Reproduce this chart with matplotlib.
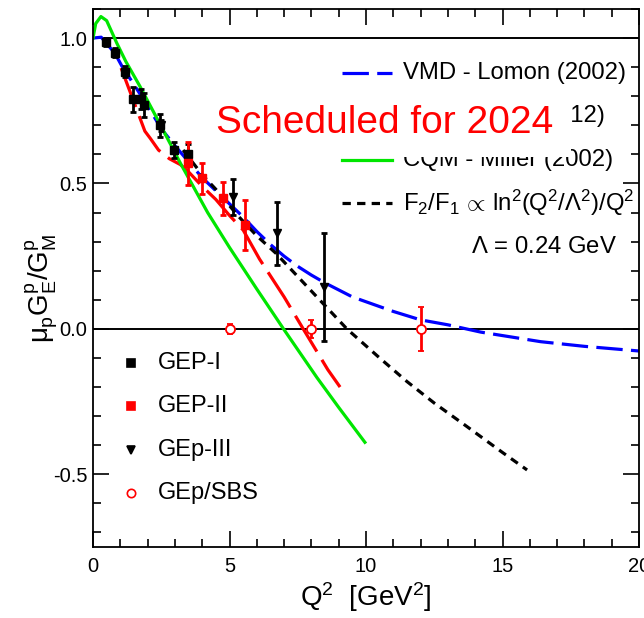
import matplotlib
matplotlib.use("Agg")
import matplotlib.pyplot as plt
from matplotlib import font_manager
from matplotlib.lines import Line2D
from matplotlib.patches import Rectangle
from matplotlib.ticker import MultipleLocator, FormatStrFormatter

# --- fuentes (ROOT usa Helvetica estrecha) ---
nombres = {f.name for f in font_manager.fontManager.ttflist}
narrow = "Liberation Sans Narrow" if "Liberation Sans Narrow" in nombres else "Liberation Sans"
plt.rcParams["font.family"] = [narrow, "DejaVu Sans"]
plt.rcParams["mathtext.fontset"] = "custom"
plt.rcParams["mathtext.rm"] = narrow
plt.rcParams["mathtext.it"] = narrow
plt.rcParams["mathtext.bf"] = narrow
plt.rcParams["axes.unicode_minus"] = False
plt.rcParams["lines.scale_dashes"] = False

# --- datos ---
gep1_q2 = [0.49, 0.79, 1.18, 1.48, 1.77, 1.88, 2.47, 2.97, 3.47]
gep1_r = [0.985, 0.95, 0.885, 0.79, 0.79, 0.77, 0.70, 0.615, 0.60]
gep1_err = [0.012, 0.015, 0.02, 0.043, 0.034, 0.04, 0.04, 0.026, 0.037]

gep2_q2 = [3.49, 3.98, 4.77, 5.57]
gep2_r = [0.569, 0.518, 0.449, 0.357]
gep2_err = [0.075, 0.054, 0.057, 0.085]

gep3_q2 = [2.49, 5.14, 6.73, 8.46]
gep3_r = [0.70, 0.455, 0.329, 0.145]
gep3_err = [0.02, 0.062, 0.109, 0.186]

sbs_q2 = [5.0, 8.0, 12.0]
sbs_r = [0.0, 0.0, 0.0]
sbs_err = [0.016, 0.03, 0.075]

# curvas teóricas
vmd_q2 = [0, 0.3, 0.8, 1.05, 1.5, 1.96, 2.51, 3.0, 3.5, 4.0, 5.0, 5.5, 6.0, 6.5, 7.0,
          7.5, 8.0, 8.5, 9.5, 11.0, 12.0, 13.0, 14.2, 16.4, 18.0, 20.0]
vmd_r = [1.0, 1.003, 0.948, 0.905, 0.84, 0.773, 0.687, 0.63, 0.575, 0.52, 0.43, 0.385,
         0.335, 0.29, 0.25, 0.215, 0.185, 0.158, 0.11, 0.06, 0.031, 0.014, -0.011,
         -0.044, -0.06, -0.076]

dse_q2 = [1.03, 1.5, 1.9, 2.1, 2.4, 2.8, 3.2, 3.5, 4.0, 4.5, 5.0, 5.5, 6.1, 7.0, 7.7, 8.6, 9.05]
dse_r = [0.897, 0.78, 0.68, 0.655, 0.615, 0.585, 0.565, 0.54, 0.49, 0.445, 0.39, 0.34,
         0.24, 0.11, 0.0, -0.14, -0.2]

cqm_q2 = [0, 0.1, 0.29, 0.5, 0.87, 1.2, 1.72, 2.45, 3.2, 4.2, 5.0, 6.0, 7.0, 8.2, 9.0, 9.96]
cqm_r = [1.0, 1.05, 1.074, 1.06, 0.983, 0.92, 0.834, 0.705, 0.57, 0.40, 0.28, 0.137,
         -0.003, -0.167, -0.27, -0.39]

pqcd_q2 = [3.3, 4.0, 4.5, 5.3, 6.0, 6.7, 7.5, 8.3, 9.3, 10.5, 11.5, 12.5, 13.7, 15.0, 15.9]
pqcd_r = [0.615, 0.53, 0.48, 0.39, 0.32, 0.26, 0.18, 0.10, 0.0, -0.10, -0.181, -0.255,
          -0.336, -0.425, -0.485]

W, H = 644, 618
fig = plt.figure(figsize=(W / 100, H / 100), dpi=100)
x0, x1, ytop, ybot = 93, 639, 9, 547
ax = fig.add_axes([x0 / W, 1 - ybot / H, (x1 - x0) / W, (ybot - ytop) / H])
ax.set_xlim(0, 20)
ax.set_ylim(-0.75, 1.1)

ax.axhline(1.0, color="black", lw=1.4, zorder=1)
ax.axhline(0.0, color="black", lw=1.4, zorder=1)

azul = (0, 0, 1)
rojo = (1, 0, 0)
verde = (0, 0.9, 0)
guion_azul = (0, (19, 6))
guion_rojo = (0, (30, 7))
guion_negro = (0, (6, 4.5))

ax.plot(vmd_q2, vmd_r, color=azul, lw=2.3, ls=guion_azul, zorder=2)
ax.plot(dse_q2, dse_r, color=rojo, lw=2.3, ls=guion_rojo, zorder=2)
ax.plot(cqm_q2, cqm_r, color=verde, lw=2.3, zorder=2)
ax.plot(pqcd_q2, pqcd_r, color="black", lw=2.3, ls=guion_negro, zorder=2)

kw = dict(ls="none", elinewidth=2, capsize=2.5, capthick=2, zorder=3)
ax.errorbar(gep1_q2, gep1_r, yerr=gep1_err, marker="s", ms=6, color="black", **kw)
ax.errorbar(gep2_q2, gep2_r, yerr=gep2_err, marker="s", ms=6, color=rojo, **kw)
ax.errorbar(gep3_q2, gep3_r, yerr=gep3_err, marker="v", ms=6, color="black", **kw)
ax.errorbar(sbs_q2, sbs_r, yerr=sbs_err, marker="o", ms=6.5, mfc="white", mec=rojo,
            mew=1.3, color=rojo, **kw)

# ejes estilo ROOT
ax.xaxis.set_major_locator(MultipleLocator(5))
ax.xaxis.set_minor_locator(MultipleLocator(1))
ax.yaxis.set_major_locator(MultipleLocator(0.5))
ax.yaxis.set_minor_locator(MultipleLocator(0.1))
ax.yaxis.set_major_formatter(FormatStrFormatter("%.1f"))
ax.tick_params(which="both", direction="in", top=True, right=True, width=1.2,
               labelsize=14.5)
ax.tick_params(which="major", length=11.5)
ax.tick_params(which="minor", length=5.8)
ax.tick_params(axis="x", pad=7)
ax.tick_params(axis="y", pad=4)
for s in ax.spines.values():
    s.set_linewidth(1.3)

fig.text(366 / W, 1 - 597 / H, r"Q$^2$  [GeV$^2$]", fontsize=20, ha="center", va="center")
fig.text(42 / W, 1 - 288 / H, r"$\mu_{\rm p}$G$_{\rm E}^{\rm p}$/G$_{\rm M}^{\rm p}$",
         fontsize=20, rotation=90, ha="center", va="center")


def px(x, y):
    return (x - x0) / (x1 - x0), (ybot - y) / (ybot - ytop)


# leyenda de modelos (arriba a la derecha)
modelos = [
    ("VMD - Lomon (2002)", azul, guion_azul),
    ("DSE - Cloët (2012)", rojo, guion_rojo),
    ("CQM - Miller (2002)", verde, "-"),
    (r"F$_2$/F$_1$$\,\propto\,$ln$^2$(Q$^2$/$\Lambda^2$)/Q$^2$", "black", guion_negro),
]
for i, (txt, c, ls) in enumerate(modelos):
    yy = 73 + 43.3 * i
    a, b = px(342, yy)
    a2, _ = px(392, yy)
    ax.add_line(Line2D([a, a2], [b, b], transform=ax.transAxes, color=c, lw=2.3, ls=ls,
                       clip_on=False, zorder=4))
    tx, ty = px(403, yy)
    ax.text(tx, ty, txt, transform=ax.transAxes, fontsize=17.2, va="center", ha="left",
            zorder=4)
lx, ly = px(617, 247)
ax.text(lx, ly, r"$\Lambda$ = 0.24 GeV", transform=ax.transAxes, fontsize=17.2,
        va="center", ha="right")

# leyenda de datos (abajo a la izquierda)
series = [
    ("GEP-I", "s", "black", "black"),
    ("GEP-II", "s", rojo, rojo),
    ("GEp-III", "v", "black", "black"),
    ("GEp/SBS", "o", "white", rojo),
]
for i, (txt, m, fc, ec) in enumerate(series):
    yy = 363 + 43.3 * i
    a, b = px(131, yy)
    ax.plot([a], [b], transform=ax.transAxes, marker=m, ms=6, mfc=fc, mec=ec, mew=1.2,
            ls="none", clip_on=False, zorder=4)
    tx, ty = px(158, yy)
    ax.text(tx, ty, txt, transform=ax.transAxes, fontsize=17, va="center", ha="left")

# cartel superpuesto
fig.patches.append(Rectangle((205 / W, 1 - 157 / H), (571 - 205) / W, (157 - 93) / H,
                             transform=fig.transFigure, facecolor="white",
                             edgecolor="none", zorder=10))
fig.text(385 / W, 1 - 123 / H, "Scheduled for 2024", fontsize=28, color=rojo,
         family=["Liberation Sans", "DejaVu Sans"], ha="center", va="center", zorder=11)

fig.savefig("out.png", dpi=100)
